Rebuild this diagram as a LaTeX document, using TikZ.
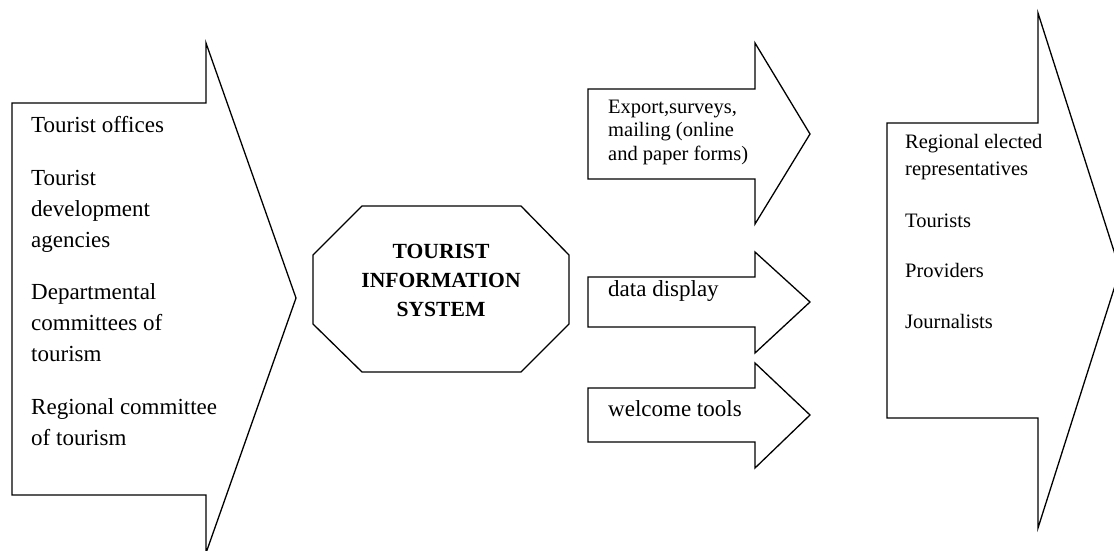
\documentclass[tikz,border=0pt]{standalone}
\usepackage{fontspec}
\setmainfont{Liberation Serif}
\usetikzlibrary{positioning}

\begin{document}
\begin{tikzpicture}[x=1pt, y=-1pt,
    blockline/.style={draw, line width=1.3pt, line join=miter},
    itemtext/.style={anchor=base west, align=left, inner sep=0pt},
    bigfont/.style={font=\fontsize{23}{31}\selectfont},
    smallfont/.style={font=\fontsize{20.5}{23.5}\selectfont},
    sidefont/.style={font=\fontsize{20.5}{27}\selectfont}]
  \useasboundingbox (0, 0) rectangle (1114, 550);
  \clip (0, 0) rectangle (1114, 550);

  % block arrows and the octagon
  \draw[blockline] (12, 103) -- (206, 103) -- (206, 43) -- (296, 298) -- (206, 553) -- (206, 495) -- (12, 495) -- cycle;
  \draw[blockline] (313, 255) -- (362, 206) -- (521, 206) -- (569, 255) -- (569, 324) -- (521, 372) -- (362, 372) -- (313, 324) -- cycle;
  \draw[blockline] (588, 89) -- (755, 89) -- (755, 43) -- (810, 134) -- (755, 224) -- (755, 179) -- (588, 179) -- cycle;
  \draw[blockline] (588, 277) -- (755, 277) -- (755, 252) -- (810, 302) -- (755, 353) -- (755, 327) -- (588, 327) -- cycle;
  \draw[blockline] (588, 388) -- (755, 388) -- (755, 363) -- (810, 415) -- (755, 468) -- (755, 442) -- (588, 442) -- cycle;
  \draw[blockline] (887, 123) -- (1038, 123) -- (1038, 13) -- (1120, 270) -- (1038, 528) -- (1038, 418) -- (887, 418) -- cycle;

  % sources (base = last line)
  \node[itemtext, bigfont] (src1) at (31, 132) {Tourist offices};
  \node[itemtext, bigfont] (src2) at (31, 247) {Tourist\\development\\agencies};
  \node[itemtext, bigfont] (src3) at (31, 361) {Departmental\\committees of\\tourism};
  \node[itemtext, bigfont] (src4) at (31, 445) {Regional committee\\of tourism};

  % system
  \node[anchor=base, align=center, inner sep=0pt, font=\fontsize{21.6}{29}\selectfont\bfseries] (sys) at (441, 316) {TOURIST\\INFORMATION\\SYSTEM};

  % outputs
  \node[itemtext, smallfont] (out1) at (608, 160) {Export,surveys,\\mailing (online\\and paper forms)};
  \node[itemtext, bigfont] (out2) at (608, 296) {data display};
  \node[itemtext, bigfont] (out3) at (608, 416) {welcome tools};

  % targets
  \node[itemtext, sidefont] (tgt1) at (905, 175) {Regional elected\\representatives};
  \node[itemtext, sidefont] (tgt2) at (905, 227) {Tourists};
  \node[itemtext, sidefont] (tgt3) at (905, 277) {Providers};
  \node[itemtext, sidefont] (tgt4) at (905, 328) {Journalists};
\end{tikzpicture}
\end{document}
